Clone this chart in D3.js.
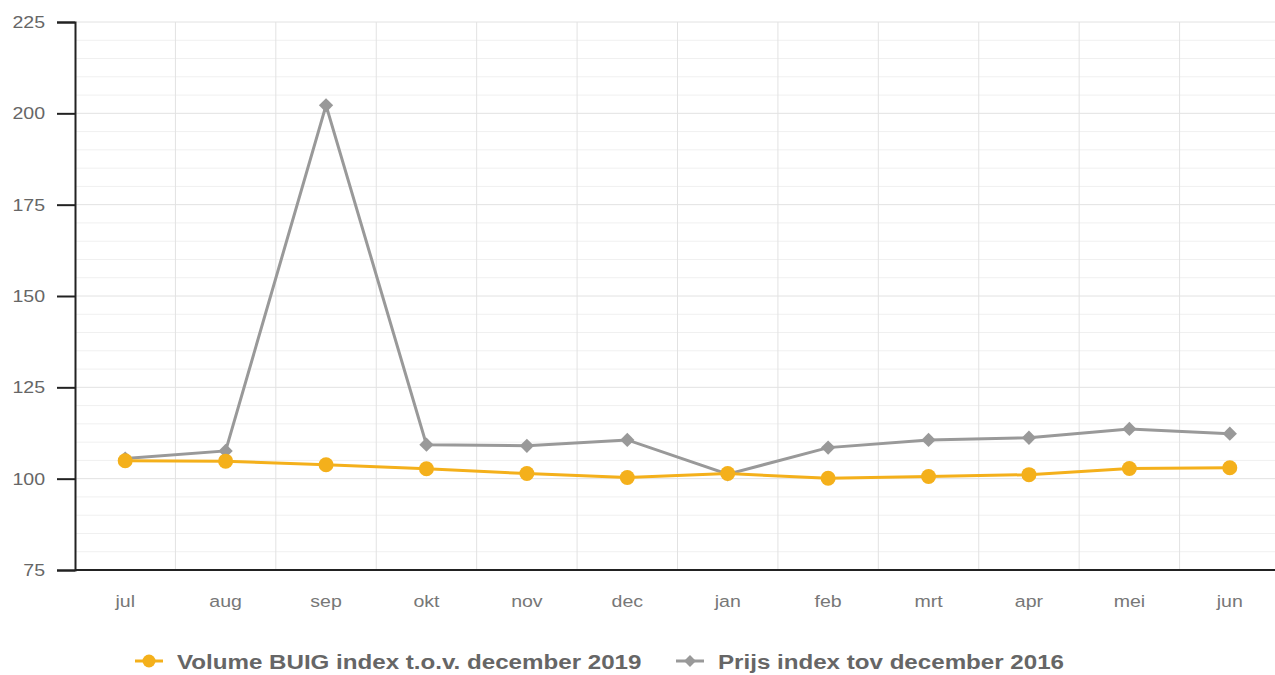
<!DOCTYPE html>
<html><head><meta charset="utf-8">
<script src="https://cdn.jsdelivr.net/npm/d3@7"></script>
<style>body{margin:0;background:#fff;}svg{display:block;font-family:"Liberation Sans",Arial,sans-serif;}</style>
</head><body><svg id="c" width="1275" height="675"></svg>
<script>
const categories = ["jul","aug","sep","okt","nov","dec","jan","feb","mrt","apr","mei","jun"];
const volume = [104.9,104.8,103.8,102.7,101.4,100.3,101.4,100.1,100.6,101.1,102.8,103.0];
const prijs = [105.5,107.6,202.2,109.3,109.0,110.6,101.2,108.5,110.6,111.2,113.6,112.3];
const yTicks = [75,100,125,150,175,200,225];
const seriesNames = ["Volume BUIG index t.o.v. december 2019","Prijs index tov december 2016"];

(function(){
const svg = d3.select("#c");
const pL = 75, pR = 1280, pT = 22, pB = 570;
const SX = 1.15;
const x = d3.scaleBand().domain(categories).range([pL, pR]);
const y = d3.scaleLinear().domain([75,225]).range([pB, pT]);

// minor grid
const minor = d3.range(80,225,5).filter(v=>v%25!==0);
svg.append("g").selectAll("line").data(minor).join("line")
  .attr("x1",pL).attr("x2",1275).attr("y1",d=>y(d)).attr("y2",d=>y(d))
  .attr("stroke","#f0f0f0").attr("stroke-width",1);
// major grid
svg.append("g").selectAll("line").data(yTicks.slice(1)).join("line")
  .attr("x1",pL).attr("x2",1275).attr("y1",d=>y(d)).attr("y2",d=>y(d))
  .attr("stroke","#e2e2e2").attr("stroke-width",1);
// vertical grid
svg.append("g").selectAll("line").data(categories.slice(1)).join("line")
  .attr("x1",d=>x(d)).attr("x2",d=>x(d)).attr("y1",pT).attr("y2",pB)
  .attr("stroke","#e2e2e2").attr("stroke-width",1);

// y axis
const ya = svg.append("g").attr("transform",`translate(${pL},0)`)
  .call(d3.axisLeft(y).tickValues(yTicks).tickSize(18).tickPadding(12));
ya.select(".domain").attr("stroke","#222").attr("stroke-width",2);
ya.selectAll(".tick line").attr("stroke","#222").attr("stroke-width",2);
ya.selectAll("text").attr("fill","#666").attr("font-size",17).attr("font-family","Liberation Sans, Arial, sans-serif")
  .attr("x",0).attr("transform",`translate(-30,0) scale(${SX},1)`);

// x axis
const xa = svg.append("g").attr("transform",`translate(0,${pB})`)
  .call(d3.axisBottom(x).tickSize(0).tickPadding(25));
xa.select(".domain").attr("stroke","#222").attr("stroke-width",2).attr("d",`M${pL},0H1275`);
xa.selectAll("text").attr("fill","#777").attr("font-size",17).attr("font-family","Liberation Sans, Arial, sans-serif")
  .attr("transform",`scale(${SX},1)`);

const cx = d => x(d) + x.bandwidth()/2;
const orange = "#f4b01b", gray = "#999999";

const line = d3.line().x((d,i)=>cx(categories[i])).y(d=>y(d));
svg.append("path").datum(prijs).attr("d",line).attr("fill","none").attr("stroke",gray).attr("stroke-width",3);
svg.append("g").selectAll("path").data(prijs).join("path")
  .attr("d",d3.symbol(d3.symbolDiamond2,130))
  .attr("transform",(d,i)=>`translate(${cx(categories[i])},${y(d)})`).attr("fill",gray);
svg.append("path").datum(volume).attr("d",line).attr("fill","none").attr("stroke",orange).attr("stroke-width",3);
svg.append("g").selectAll("circle").data(volume).join("circle")
  .attr("cx",(d,i)=>cx(categories[i])).attr("cy",d=>y(d)).attr("r",7.5).attr("fill",orange);

// legend
const leg = svg.append("g").attr("font-family","Liberation Sans, Arial, sans-serif");
const items = [{x:135,c:orange,t:seriesNames[0],sym:"circle"},{x:676,c:gray,t:seriesNames[1],sym:"diamond"}];
items.forEach(it=>{
  const g = leg.append("g").attr("transform",`translate(${it.x},661)`);
  g.append("line").attr("x1",0).attr("x2",28).attr("stroke",it.c).attr("stroke-width",3);
  if(it.sym==="circle") g.append("circle").attr("cx",14).attr("r",6.5).attr("fill",it.c);
  else g.append("path").attr("d",d3.symbol(d3.symbolDiamond2,90)).attr("transform","translate(14,0)").attr("fill",it.c);
  g.append("text").attr("transform",`translate(42,7.5) scale(${SX},1)`).attr("font-size",21).attr("font-weight","bold").attr("fill","#666").text(it.t);
});
})();
</script></body></html>
